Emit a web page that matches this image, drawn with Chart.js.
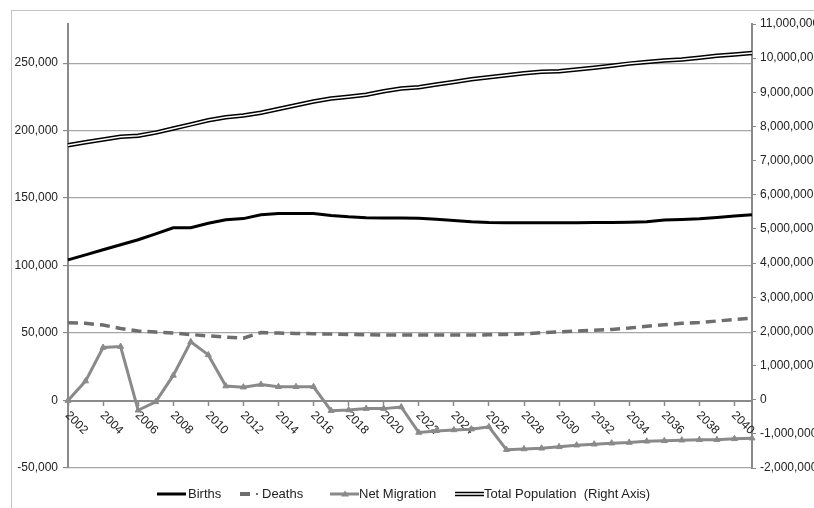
<!DOCTYPE html>
<html>
<head>
<meta charset="utf-8">
<script src="https://cdn.jsdelivr.net/npm/chart.js@4"></script>
<style>
  body { margin: 0; background: #fff; }
  #wrap { position: relative; width: 814px; height: 508px; overflow: hidden; }
  #frame { position: absolute; left: 11px; top: 10px; width: 900px; height: 600px; border: 1px solid #c4c4c4; }
  canvas { position: absolute; left: 0; top: 0; }
  .leg { position: absolute; top: 486px; font: 13px "Liberation Sans", Arial, sans-serif; color: #222; white-space: pre; line-height: 16px; }
  .sym { position: absolute; top: 489px; }
</style>
</head>
<body>
<div id="wrap">
  <div id="frame"></div>
  <canvas id="chart" width="814" height="508"></canvas>

  <svg class="sym" style="left:157px" width="30" height="10"><line x1="0" y1="5" x2="29" y2="5" stroke="#000" stroke-width="3"/></svg>
  <div class="leg" style="left:188px">Births</div>

  <svg class="sym" style="left:240px" width="22" height="10"><line x1="0" y1="5" x2="10" y2="5" stroke="#6e6e6e" stroke-width="4"/><rect x="16" y="4" width="2" height="2" fill="#6e6e6e"/></svg>
  <div class="leg" style="left:262px">Deaths</div>

  <svg class="sym" style="left:330px" width="30" height="10"><line x1="0" y1="5" x2="29" y2="5" stroke="#8a8a8a" stroke-width="3"/><polygon points="15,1.5 19,7.5 11,7.5" fill="#8a8a8a"/></svg>
  <div class="leg" style="left:359px">Net Migration</div>

  <svg class="sym" style="left:455px" width="30" height="10"><line x1="0" y1="5" x2="29" y2="5" stroke="#000" stroke-width="4.5"/><line x1="0" y1="5" x2="29" y2="5" stroke="#fff" stroke-width="1.5"/></svg>
  <div class="leg" style="left:484px">Total Population  (Right Axis)</div>
</div>

<script>
const years = ['2002', '2003', '2004', '2005', '2006', '2007', '2008', '2009', '2010', '2011',
  '2012', '2013', '2014', '2015', '2016', '2017', '2018', '2019', '2020', '2021',
  '2022', '2023', '2024', '2025', '2026', '2027', '2028', '2029', '2030', '2031',
  '2032', '2033', '2034', '2035', '2036', '2037', '2038', '2039', '2040', '2041'];

const births = [104200, 107900, 111700, 115400, 119100, 123500, 128000, 128000, 131300, 134000,
  134800, 137600, 138600, 138600, 138600, 137100, 136100, 135400, 135200, 135300,
  135000, 134400, 133400, 132400, 131900, 131800, 131700, 131700, 131700, 131800,
  131900, 132000, 132100, 132400, 133700, 134200, 134700, 135700, 136700, 137700];

const deaths = [57700, 57200, 55900, 53400, 51500, 50700, 50000, 48900, 47900, 47000,
  46200, 50400, 50000, 49700, 49500, 49200, 48900, 48700, 48500, 48500,
  48500, 48500, 48500, 48500, 48700, 49000, 49400, 50200, 50900, 51500,
  52000, 52700, 53700, 55000, 56200, 57200, 57900, 58900, 60000, 61100];

const netMigration = [0, 14400, 39300, 40000, -7200, -1000, 18600, 43500, 33800, 10700,
  9900, 11900, 10200, 10200, 10200, -7500, -7000, -6000, -6000, -4800,
  -23700, -22500, -21800, -21200, -19500, -36400, -35900, -35400, -34300, -33100,
  -32400, -31600, -31100, -30200, -29900, -29400, -29100, -29000, -28400, -27900];

const totalPop = [7450000, 7540000, 7620000, 7700000, 7730000, 7820000, 7940000, 8060000, 8180000, 8270000,
  8320000, 8400000, 8510000, 8620000, 8730000, 8820000, 8870000, 8930000, 9030000, 9110000,
  9150000, 9230000, 9300000, 9380000, 9440000, 9500000, 9560000, 9600000, 9620000, 9670000,
  9720000, 9780000, 9840000, 9890000, 9930000, 9960000, 10010000, 10070000, 10110000, 10150000];

// tick values for both value axes
const leftTicks = [-50000, 0, 50000, 100000, 150000, 200000, 250000];
const rightTicks = [-2000000, -1000000, 0, 1000000, 2000000, 3000000, 4000000, 5000000,
  6000000, 7000000, 8000000, 9000000, 10000000, 11000000];

const FONT = '"Liberation Sans", Arial, sans-serif';
const fmt = v => Number(v).toLocaleString('en-US');

// year labels sit under the zero line, slanted down to the right
const yearLabels = {
  id: 'yearLabels',
  beforeDatasetsDraw(chart) {
    const { ctx, scales: { x, y } } = chart;
    const y0 = y.getPixelForValue(0);
    ctx.save();
    ctx.font = '12px ' + FONT;
    ctx.fillStyle = '#222';
    ctx.textAlign = 'left';
    ctx.textBaseline = 'middle';
    x.ticks.forEach((t, i) => {
      const label = x.getLabelForValue(t.value);
      if (Number(label) % 2) return;
      const px = x.getPixelForTick(i);
      ctx.save();
      ctx.translate(px - 1, y0 + 13);
      ctx.rotate(Math.PI / 4);
      ctx.fillText(label, 0, 0);
      ctx.restore();
    });
    ctx.restore();
  }
};

new Chart(document.getElementById('chart'), {
  type: 'line',
  data: {
    labels: years,
    datasets: [
      {
        label: 'Births', data: births, yAxisID: 'y', order: 5,
        borderColor: '#000', borderWidth: 3, pointRadius: 0, tension: 0
      },
      {
        label: 'Deaths', data: deaths, yAxisID: 'y', order: 4,
        borderColor: '#6e6e6e', borderWidth: 3.5, borderDash: [10, 6], pointRadius: 0, tension: 0
      },
      {
        label: 'Net Migration', data: netMigration, yAxisID: 'y', order: 3, clip: false,
        borderColor: '#8a8a8a', borderWidth: 3, tension: 0,
        pointStyle: 'triangle', pointRadius: 3.5, pointBackgroundColor: '#8a8a8a',
        pointBorderColor: '#8a8a8a', pointBorderWidth: 1
      },
      {
        label: 'Total Population  (Right Axis)', data: totalPop, yAxisID: 'y1', order: 2,
        borderColor: '#000', borderWidth: 4.5, pointRadius: 0, tension: 0
      },
      {
        label: '', data: totalPop, yAxisID: 'y1', order: 1,
        borderColor: '#fff', borderWidth: 1.5, pointRadius: 0, tension: 0
      }
    ]
  },
  options: {
    responsive: false,
    animation: false,
    events: [],
    layout: { padding: { top: 24, bottom: 40, left: 0, right: 0 } },
    plugins: { legend: { display: false }, tooltip: { enabled: false } },
    scales: {
      x: {
        type: 'category',
        position: { y: 0 },
        offset: false,
        grid: {
          drawOnChartArea: false,
          tickLength: 4,
          tickWidth: 1.5,
          tickColor: c => (c.index % 2 === 0 ? '#8a8a8a' : 'transparent')
        },
        border: { color: '#8a8a8a', width: 2 },
        ticks: { display: false, autoSkip: false }
      },
      y: {
        position: 'left',
        min: -50000,
        max: 279000,
        afterFit: s => { s.width = 68; },
        afterBuildTicks: s => { s.ticks = leftTicks.map(v => ({ value: v })); },
        grid: { color: '#a6a6a6', lineWidth: 1.2, tickLength: 5, tickColor: '#8a8a8a' },
        border: { color: '#8a8a8a', width: 2 },
        ticks: {
          padding: 5,
          color: '#222', font: { family: FONT, size: 12 },
          callback: v => fmt(v)
        }
      },
      y1: {
        position: 'right',
        min: -2000000,
        max: 11000000,
        afterFit: s => { s.width = 62; },
        afterBuildTicks: s => { s.ticks = rightTicks.map(v => ({ value: v })); },
        grid: { drawOnChartArea: false, tickLength: 4, tickColor: '#8a8a8a' },
        border: { color: '#8a8a8a', width: 2 },
        ticks: {
          padding: 4,
          color: '#222', font: { family: FONT, size: 12 },
          callback: v => fmt(v)
        }
      }
    }
  },
  plugins: [yearLabels]
});
</script>
</body>
</html>
